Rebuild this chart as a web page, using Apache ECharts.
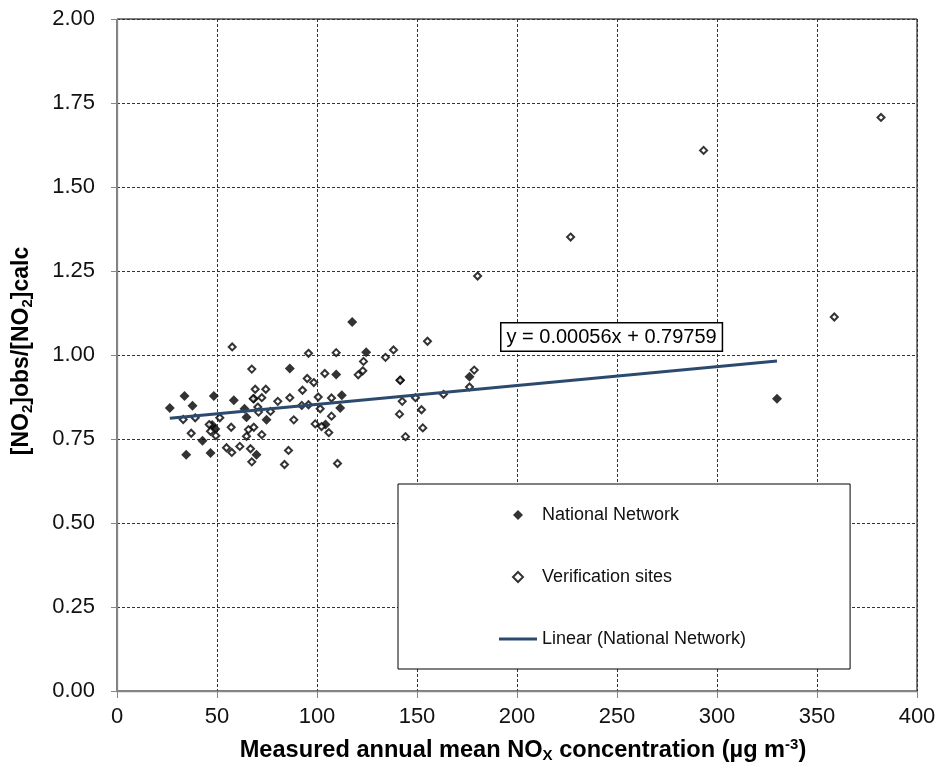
<!DOCTYPE html>
<html>
<head>
<meta charset="utf-8">
<script src="https://cdn.jsdelivr.net/npm/echarts@6/dist/echarts.min.js"></script>
<style>
html,body{margin:0;padding:0;background:#fff;}
#chart{width:939px;height:767px;}
</style>
</head>
<body>
<div id="chart"></div>
<script>
// ---- data ----
var nationalX = [26.4, 33.75, 34.6, 37.75, 42.75, 46.75, 48.4, 47.6, 49.2, 58.4, 63.75, 64.75, 68.4, 69.75, 74.75, 86.4, 104.25, 109.6, 111.6, 112.4, 117.6, 124.6, 141.6, 176.25, 330];
var nationalY = [0.842, 0.878, 0.703, 0.849, 0.745, 0.708, 0.878, 0.792, 0.780, 0.865, 0.840, 0.815, 0.870, 0.703, 0.807, 0.960, 0.793, 0.942, 0.842, 0.880, 1.098, 1.008, 0.925, 0.935, 0.870];

var verificationX = [57.6, 33.1, 39.1, 37.1, 46.1, 46.75, 49.4, 51.4, 54.75, 57.4, 61.4, 57.1, 64.75, 65.75, 68.4, 66.75, 67.4, 67.4, 69.1, 74.4, 72.4, 68.1, 70.4, 70.75, 76.75, 80.4, 72.4, 85.75, 83.75, 88.4, 86.4, 92.75, 95.1, 95.75, 98.4, 92.4, 95.75, 99.1,
  100.6, 101.6, 102.25, 105.9, 107.25, 107.25, 103.9, 109.6, 110.25, 123.25, 122.9, 120.6, 134.25, 138.25, 155.25, 141.6, 142.6, 141.25, 144.25, 149.25, 152.25, 152.9, 163.25, 176.25, 178.6,
  180.3, 226.8, 293.3, 358.65, 382];
var verificationY = [1.024, 0.808, 0.813, 0.767, 0.793, 0.773, 0.760, 0.813, 0.724, 0.710, 0.728, 0.785, 0.758, 0.778, 0.785, 0.721, 0.682, 0.958, 0.898, 0.898, 0.873, 0.870, 0.845, 0.830, 0.832, 0.862, 0.763, 0.716, 0.674, 0.807, 0.873, 0.895, 0.930, 1.005, 0.918, 0.850, 0.852, 0.795,
  0.875, 0.840, 0.787, 0.769, 0.818, 0.872, 0.945, 1.007, 0.677, 0.981, 0.953, 0.941, 0.993, 1.015, 1.041, 0.925, 0.862, 0.824, 0.757, 0.873, 0.837, 0.783, 0.883, 0.905, 0.955,
  1.235, 1.351, 1.609, 1.113, 1.707];

var trendLineX = [26.4, 330];
var trendLineY = [0.812, 0.982];
var trendSlope = 0.00056;
var trendIntercept = 0.79759;

var seriesNames = ['National Network', 'Verification sites', 'Linear (National Network)'];
var xTicks = [0, 50, 100, 150, 200, 250, 300, 350, 400];
var yTicks = [0, 0.25, 0.5, 0.75, 1.0, 1.25, 1.5, 1.75, 2.0];

// ---- build ----
function pairs(xs, ys) { return xs.map(function (x, i) { return [x, ys[i]]; }); }

var FONT = "'Liberation Sans', Arial, Helvetica, sans-serif";
var chart = echarts.init(document.getElementById('chart'), null, { renderer: 'canvas' });

var gridLeft = 117, gridRight = 22, gridTop = 19, gridBottom = 76;
var DIAMOND_ICON = 'path://M5,0 L10,5 L5,10 L0,5 Z';
var LINE_ICON = 'path://M0,0 L38,0 L38,3 L0,3 Z';

var option = {
  animation: false,
  backgroundColor: '#fff',
  textStyle: { fontFamily: FONT },
  grid: {
    left: gridLeft, right: gridRight, top: gridTop, bottom: gridBottom,
    show: true, borderColor: '#000', borderWidth: 1, backgroundColor: 'transparent'
  },
  xAxis: {
    type: 'value',
    min: xTicks[0], max: xTicks[xTicks.length - 1], interval: xTicks[1] - xTicks[0],
    axisLine: { show: true, onZero: false, lineStyle: { color: '#868686', width: 1.3 } },
    axisTick: { show: true, inside: false, length: 7, lineStyle: { color: '#868686' } },
    axisLabel: { fontSize: 22, color: '#111', fontFamily: FONT, margin: 15 },
    splitLine: { show: true, lineStyle: { color: '#333', type: [3, 2], width: 1 } }
  },
  yAxis: {
    type: 'value',
    min: yTicks[0], max: yTicks[yTicks.length - 1], interval: yTicks[1] - yTicks[0],
    axisLine: { show: true, onZero: false, lineStyle: { color: '#868686', width: 1.3 } },
    axisTick: { show: true, inside: false, length: 6, lineStyle: { color: '#868686' } },
    axisLabel: { fontSize: 22, color: '#111', fontFamily: FONT, margin: 22,
      formatter: function (v) { return v.toFixed(2); } },
    splitLine: { show: true, lineStyle: { color: '#333', type: [3, 2], width: 1 } }
  },
  legend: {
    orient: 'vertical',
    left: 398, top: 484,
    padding: [21, 104, 20, 101],
    itemGap: 42,
    itemWidth: 38,
    itemHeight: 10,
    symbolKeepAspect: true,
    backgroundColor: '#fff',
    borderColor: '#000',
    borderWidth: 1,
    selectedMode: false,
    textStyle: { fontSize: 18, color: '#111', fontFamily: FONT, lineHeight: 20 },
    data: [
      { name: seriesNames[0], icon: DIAMOND_ICON },
      { name: seriesNames[1], icon: DIAMOND_ICON },
      { name: seriesNames[2], icon: LINE_ICON, itemStyle: { color: '#2c4a6e', borderWidth: 0 } }
    ]
  },
  series: [
    {
      name: seriesNames[0],
      type: 'scatter',
      symbol: 'diamond',
      symbolSize: 10,
      itemStyle: { color: '#000' },
      emphasis: { disabled: true },
      data: pairs(nationalX, nationalY),
      z: 3
    },
    {
      name: seriesNames[1],
      type: 'scatter',
      symbol: 'diamond',
      symbolSize: 7,
      itemStyle: { color: '#fff', borderColor: '#000', borderWidth: 2 },
      emphasis: { disabled: true },
      data: pairs(verificationX, verificationY),
      z: 4
    },
    {
      name: seriesNames[2],
      type: 'line',
      symbol: 'none',
      showSymbol: false,
      lineStyle: { color: '#2c4a6e', width: 3 },
      itemStyle: { color: '#2c4a6e' },
      emphasis: { disabled: true },
      data: pairs(trendLineX, trendLineY),
      z: 5
    }
  ],
  graphic: [
    {
      type: 'text',
      left: 500, top: 322,
      z: 100,
      style: {
        text: 'y = ' + trendSlope.toFixed(5) + 'x + ' + trendIntercept.toFixed(5),
        font: '20px ' + FONT,
        fill: '#000',
        backgroundColor: '#fff',
        borderColor: '#000',
        borderWidth: 1.5,
        padding: [4, 5, 3, 5]
      }
    },
    {
      type: 'text',
      x: 523, y: 750,
      z: 100,
      style: {
        text: 'Measured annual mean NO{sub|X} concentration (µg m{sup|-3})',
        font: 'bold 23.6px ' + FONT,
        fill: '#000',
        align: 'center',
        verticalAlign: 'middle',
        lineHeight: 26,
        rich: {
          sub: { font: 'bold 15px ' + FONT, fill: '#000', verticalAlign: 'bottom', lineHeight: 12 },
          sup: { font: 'bold 15px ' + FONT, fill: '#000', verticalAlign: 'top', lineHeight: 12 }
        }
      }
    },
    {
      type: 'text',
      x: 22, y: 351,
      rotation: Math.PI / 2,
      z: 100,
      style: {
        text: '[NO{sub|2}]obs/[NO{sub|2}]calc',
        font: 'bold 23px ' + FONT,
        fill: '#000',
        align: 'center',
        verticalAlign: 'middle',
        lineHeight: 26,
        rich: {
          sub: { font: 'bold 15px ' + FONT, fill: '#000', verticalAlign: 'bottom', lineHeight: 12 }
        }
      }
    }
  ]
};
chart.setOption(option);
</script>
</body>
</html>
